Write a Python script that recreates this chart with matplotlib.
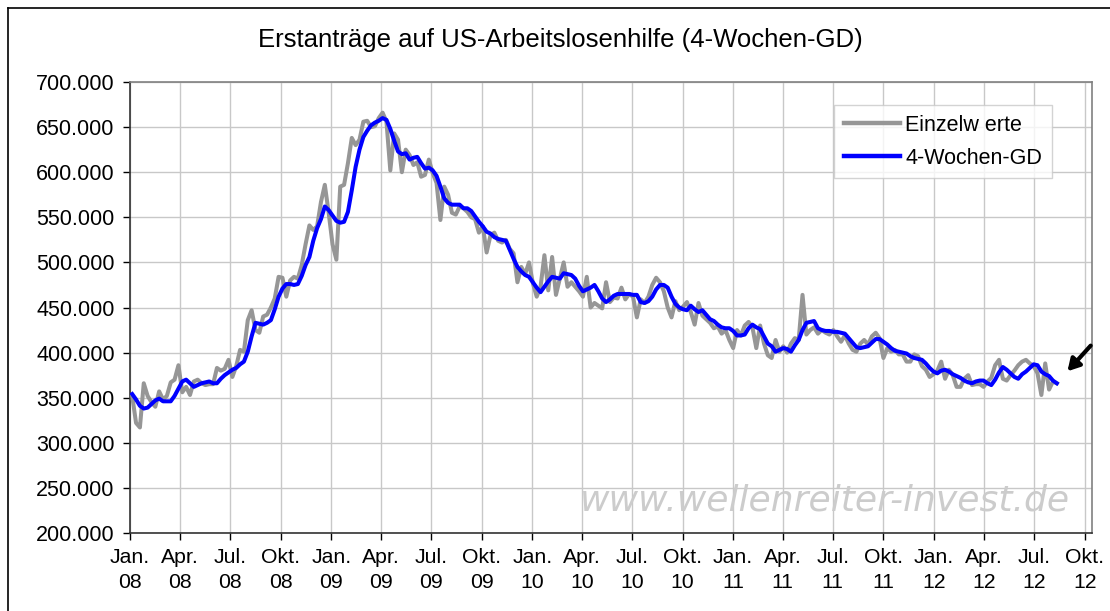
import matplotlib
matplotlib.use("Agg")
import matplotlib.pyplot as plt
import matplotlib.ticker as mticker
import pandas as pd

# Data (in thousands), weekly from 5 Jan 2008
einzel_08 = [352, 322, 317, 366, 352, 345, 340, 357, 348, 352, 367, 370, 386, 356, 362, 353, 368, 370, 366, 364,
             365, 365, 383, 380, 382, 392, 373, 385, 403, 401, 436, 447, 425, 422, 440, 442, 450, 460, 484, 483,
             462, 480, 484, 482, 497, 520, 541, 536, 540, 567, 586, 555]
einzel_09 = [520, 503, 584, 586, 610, 638, 630, 636, 656, 657, 650, 651, 660, 666, 656, 602, 643, 636, 600, 625,
             619, 608, 611, 595, 597, 614, 599, 588, 547, 584, 575, 555, 553, 562, 560, 556, 550, 548, 533, 540,
             511, 530, 533, 524, 522, 525, 515, 510, 478, 495, 487, 500]
einzel_10 = [477, 462, 473, 508, 469, 506, 464, 482, 500, 473, 478, 473, 468, 462, 484, 450, 455, 452, 449, 478,
             456, 461, 460, 472, 459, 465, 462, 439, 459, 455, 462, 475, 483, 478, 468, 450, 439, 457, 447, 451,
             456, 445, 431, 455, 441, 437, 433, 427, 429, 421, 425, 414]
einzel_11 = [405, 425, 419, 430, 434, 428, 405, 430, 410, 397, 394, 414, 401, 407, 400, 410, 416, 414, 464, 420,
             425, 428, 421, 425, 422, 420, 425, 418, 412, 419, 410, 403, 401, 410, 414, 409, 418, 422, 416, 394,
             405, 401, 403, 398, 398, 390, 390, 398, 396, 385, 381, 373, 376]
einzel_12 = [380, 390, 371, 381, 375, 362, 362, 371, 375, 364, 365, 365, 362, 368, 372, 386, 392, 371, 369, 375,
             380, 386, 390, 392, 388, 385, 377, 353, 388, 359, 368, 366]

gd_08 = [354, 348, 341, 338, 339, 343, 347, 349, 346, 346, 346, 352, 360, 368, 370, 366, 362, 364, 366, 367,
         368, 366, 366, 371, 375, 378, 381, 383, 387, 390, 401, 418, 433, 432, 431, 433, 436, 448, 462, 471,
         476, 476, 475, 476, 485, 497, 506, 524, 538, 548, 562, 558]
gd_09 = [552, 546, 544, 545, 556, 580, 606, 625, 639, 646, 652, 655, 657, 660, 658, 648, 635, 623, 620, 621,
         614, 616, 617, 610, 604, 605, 602, 596, 584, 571, 566, 564, 564, 564, 560, 560, 557, 551, 545, 540,
         534, 532, 528, 526, 525, 524, 514, 504, 495, 490, 486, 484]
gd_10 = [478, 472, 467, 473, 479, 484, 483, 482, 488, 487, 486, 482, 474, 468, 470, 472, 475, 468, 460, 456,
         459, 463, 465, 465, 465, 465, 464, 464, 456, 455, 457, 462, 470, 475, 475, 472, 462, 454, 450, 448,
         447, 452, 448, 445, 447, 442, 437, 435, 431, 428, 427, 427]
gd_11 = [424, 419, 419, 420, 427, 431, 428, 426, 418, 410, 407, 401, 403, 405, 404, 401, 408, 414, 425, 433,
         434, 435, 427, 425, 424, 424, 423, 423, 422, 421, 416, 411, 406, 405, 406, 407, 411, 415, 415, 412,
         409, 405, 402, 401, 400, 399, 396, 394, 393, 392, 388, 383, 379]
gd_12 = [377, 380, 381, 379, 376, 374, 372, 369, 367, 366, 368, 369, 369, 366, 364, 370, 378, 384, 381, 377,
         373, 371, 376, 379, 383, 387, 386, 379, 376, 374, 369, 366]

einzelwerte = einzel_08 + einzel_09 + einzel_10 + einzel_11 + einzel_12
wochen_gd = gd_08 + gd_09 + gd_10 + gd_11 + gd_12
wochen = pd.date_range("2008-01-05", periods=len(einzelwerte), freq="W-SAT")

monate = ["Jan.", "Apr.", "Jul.", "Okt."]
tick_dates = pd.date_range("2008-01-01", "2012-10-01", freq="QS")
tick_labels = [f"{monate[(d.month - 1) // 3]}\n{d.year % 100:02d}" for d in tick_dates]

fig = plt.figure(figsize=(11.1, 6.11), dpi=100)
plt.rcParams['font.family'] = ['Liberation Sans', 'DejaVu Sans']

# outer frame
fig.add_artist(plt.Line2D([8/1110, 8/1110], [0, 1 - 8/611], color='black', lw=1.2))
fig.add_artist(plt.Line2D([8/1110, 1], [1 - 8/611, 1 - 8/611], color='black', lw=1.2))

ax = fig.add_axes([130/1110, 1 - 533/611, (1092 - 130)/1110, (533 - 82)/611])

ax.plot(wochen, [v * 1000 for v in einzelwerte], color='#969696', lw=2.9, label='Einzelw erte', zorder=3)
ax.plot(wochen, [v * 1000 for v in wochen_gd], color='#0000ff', lw=2.9, label='4-Wochen-GD', zorder=4)

ax.set_xlim(pd.Timestamp("2008-01-01"), pd.Timestamp("2012-10-14"))
ax.set_ylim(200000, 700000)
ax.set_xticks(tick_dates)
ax.set_xticklabels(tick_labels, fontsize=15.3, linespacing=1.4)
ax.yaxis.set_major_locator(mticker.MultipleLocator(50000))
ax.yaxis.set_major_formatter(mticker.FuncFormatter(lambda v, p: f"{int(v) // 1000}.000"))
ax.tick_params(axis='y', labelsize=15.5, length=5, width=1, direction='out', pad=6)
ax.tick_params(axis='x', length=5, width=1, direction='out', pad=6)
ax.grid(True, color='#c8c8c8', lw=1)
ax.set_axisbelow(True)
ax.spines['left'].set_color('#333333')
ax.spines['bottom'].set_color('#333333')
ax.spines['top'].set_color('#808080')
ax.spines['right'].set_color('#808080')
for s in ax.spines.values():
    s.set_linewidth(1.2)

fig.text(560/1110, 1 - 40/611, "Erstanträge auf US-Arbeitslosenhilfe (4-Wochen-GD)",
         ha='center', va='center', fontsize=18.5)

ax.text(0.977, 0.073, "www.wellenreiter-invest.de", transform=ax.transAxes, ha='right', va='center',
        fontsize=26, style='italic', family='DejaVu Sans', color='#cccccc', zorder=2)

leg = ax.legend(loc='upper right', bbox_to_anchor=(0.958, 0.949), fontsize=15.5, frameon=True,
                fancybox=False, handlelength=2.6, borderpad=0.45, labelspacing=0.55, handletextpad=0.25,
                borderaxespad=0)
leg.get_frame().set_edgecolor('#c8c8c8')
leg.get_frame().set_linewidth(1)
for h in leg.get_lines():
    h.set_linewidth(3.2)

ax.annotate("", xy=(pd.Timestamp("2012-08-27"), 377000), xytext=(pd.Timestamp("2012-10-15"), 410000),
            arrowprops=dict(arrowstyle='-|>,head_length=0.7,head_width=0.4', color='black', lw=3),
            annotation_clip=False)

fig.savefig("out.png", dpi=100)
